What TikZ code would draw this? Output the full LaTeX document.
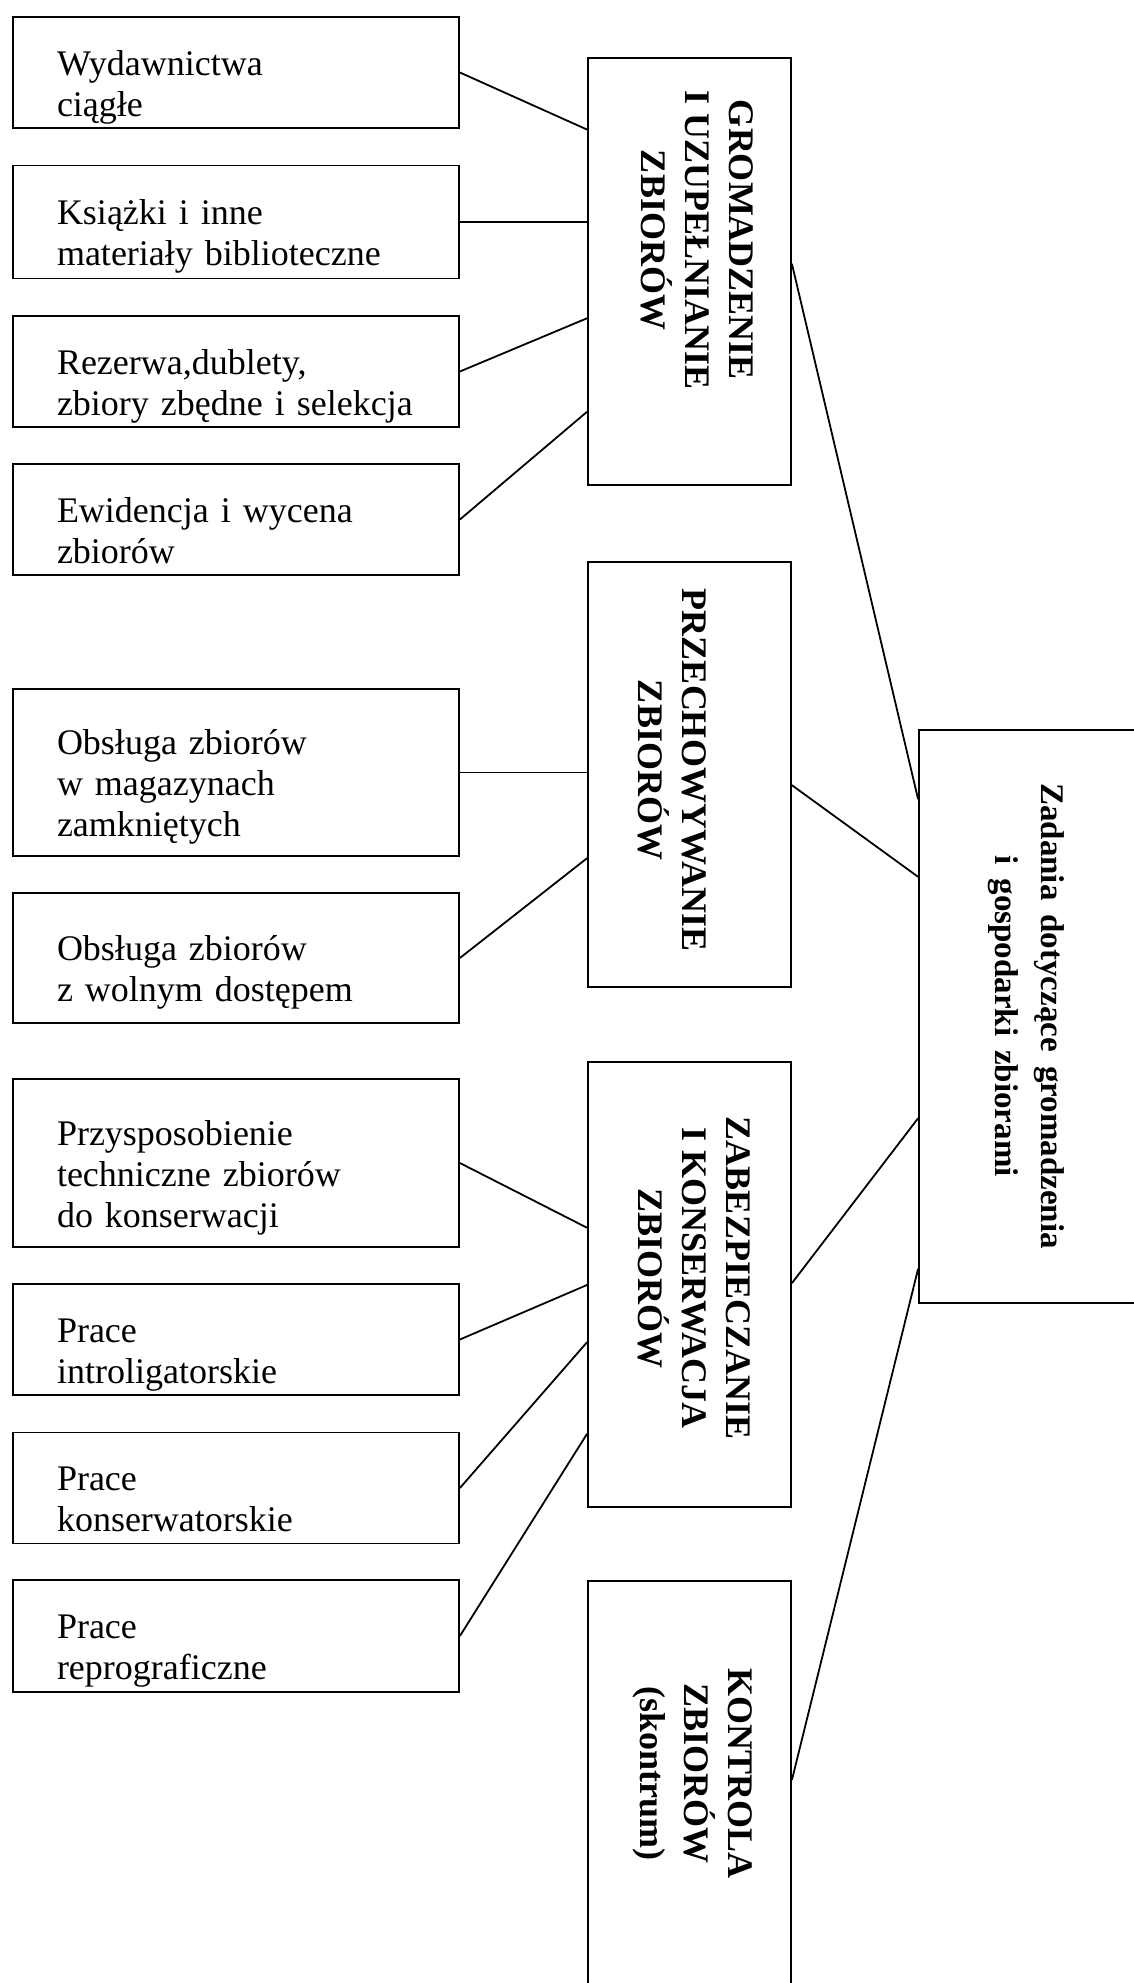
\documentclass[tikz,border=0pt]{standalone}
\usepackage{fontspec}
\setmainfont{Liberation Serif}
\usepackage{tikz}
\usetikzlibrary{calc}

\begin{document}
\begin{tikzpicture}[x=0.5pt,y=0.5pt]
\tikzstyle{every node}+=[inner sep=0pt]
\tikzstyle{leftbox}=[draw=black,line width=0.9pt,minimum width=223pt,text width=179pt,inner xsep=22pt,inner ysep=0pt,align=left,font=\fontsize{18pt}{20.5pt}\selectfont,execute at begin node={\rule{0pt}{29pt}},execute at end node={\rule[-6pt]{0pt}{6pt}}]
\tikzstyle{midbox}=[draw=black,line width=0.9pt,minimum width=101.5pt]
\tikzstyle{midtext}=[rotate=-90,align=center,font=\bfseries\fontsize{18pt}{22pt}\selectfont]
\tikzstyle{mainbox}=[draw=black,line width=0.9pt,minimum width=115.5pt,minimum height=286.5pt]
\tikzstyle{maintext}=[rotate=-90,align=center,font=\bfseries\fontsize{16.5pt}{23pt}\selectfont,execute at begin node={\spaceskip=7pt plus 1pt\relax}]
\tikzstyle{link}=[draw=black,line width=0.9pt]
\useasboundingbox (0,0) rectangle (1134,-1983);
\node [leftbox,minimum height=55.5pt] (wyd) at (236,-72.5) {Wydawnictwa\\ciągłe};
\node [leftbox,minimum height=56.5pt] (ksi) at (236,-222) {Książki i inne\\materiały biblioteczne};
\node [leftbox,minimum height=55.5pt] (rez) at (236,-371.5) {Rezerwa,dublety,\\zbiory zbędne i selekcja};
\node [leftbox,minimum height=54.5pt] (ewi) at (236,-519.5) {Ewidencja i wycena\\zbiorów};
\node [leftbox,minimum height=83.5pt] (mag) at (236,-772.5) {Obsługa zbiorów\\w magazynach\\zamkniętych};
\node [leftbox,minimum height=65pt] (wol) at (236,-958) {Obsługa zbiorów\\z wolnym dostępem};
\node [leftbox,minimum height=84pt] (prz) at (236,-1163) {Przysposobienie\\techniczne zbiorów\\do konserwacji};
\node [leftbox,minimum height=55.5pt] (intro) at (236,-1339.5) {Prace\\introligatorskie};
\node [leftbox,minimum height=55pt] (kons) at (236,-1488) {Prace\\konserwatorskie};
\node [leftbox,minimum height=56pt] (repro) at (236,-1636) {Prace\\reprograficzne};
\node [midbox,minimum height=213.5pt] (grom) at (689.5,-271.5) {};
\node [midtext] (gromtxt) at (697,-240) {GROMADZENIE\\I UZUPEŁNIANIE\\ZBIORÓW};
\node [midbox,minimum height=212.5pt] (przech) at (689.5,-774.5) {};
\node [midtext] (przechtxt) at (672,-770) {PRZECHOWYWANIE\\ZBIORÓW};
\node [midbox,minimum height=222.5pt] (zabez) at (689.5,-1284.5) {};
\node [midtext] (zabeztxt) at (694,-1278) {ZABEZPIECZANIE\\I KONSERWACJA\\ZBIORÓW};
\node [midbox,minimum height=214.5pt] (kontr) at (689.5,-1795.5) {};
\node [midtext] (kontrtxt) at (693,-1773) {KONTROLA\\ZBIORÓW\\(skontrum)};
\node [mainbox] (zad) at (1034.5,-1016.5) {};
\node [maintext] (zadtxt) at (1026,-1016) {Zadania dotyczące gromadzenia\\i gospodarki zbiorami};
\draw [link] (wyd.east) -- ($(grom.north west)!0.169!(grom.south west)$);
\draw [link] (ksi.east) -- (ksi.east -| grom.west);
\draw [link] (rez.east) -- ($(grom.north west)!0.609!(grom.south west)$);
\draw [link] (ewi.east) -- ($(grom.north west)!0.827!(grom.south west)$);
\draw [link] (mag.east) -- (mag.east -| przech.west);
\draw [link] (wol.east) -- ($(przech.north west)!0.696!(przech.south west)$);
\draw [link] (prz.east) -- ($(zabez.north west)!0.373!(zabez.south west)$);
\draw [link] (intro.east) -- ($(zabez.north west)!0.501!(zabez.south west)$);
\draw [link] (kons.east) -- ($(zabez.north west)!0.629!(zabez.south west)$);
\draw [link] (repro.east) -- ($(zabez.north west)!0.834!(zabez.south west)$);
\draw [link] ($(grom.north east)!0.482!(grom.south east)$) -- ($(zad.north west)!0.122!(zad.south west)$);
\draw [link] ($(przech.north east)!0.525!(przech.south east)$) -- ($(zad.north west)!0.257!(zad.south west)$);
\draw [link] ($(zabez.north east)!0.497!(zabez.south east)$) -- ($(zad.north west)!0.677!(zad.south west)$);
\draw [link] ($(kontr.north east)!0.464!(kontr.south east)$) -- ($(zad.north west)!0.939!(zad.south west)$);
\end{tikzpicture}
\end{document}
